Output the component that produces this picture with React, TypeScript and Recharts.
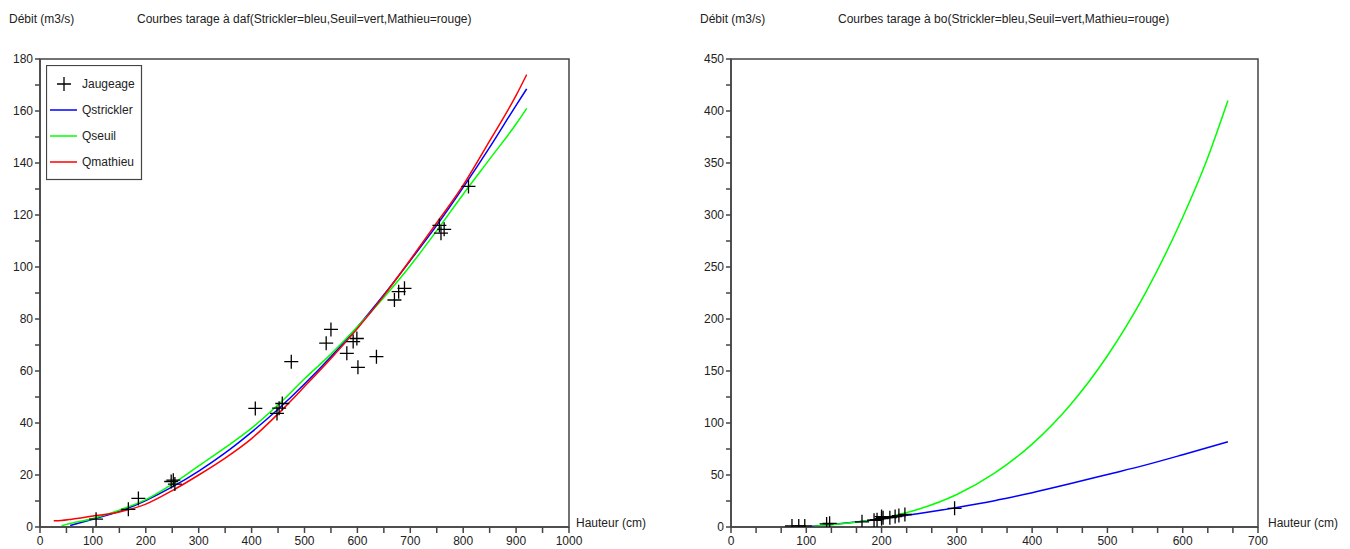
import React from 'react';
import { ComposedChart, Line, Scatter, XAxis, YAxis, ReferenceArea } from 'recharts';

// station daf : jaugeages (hauteur cm, débit m3/s)
const dafJaugeage = [
  { x: 106, y: 3 }, { x: 167, y: 6.8 }, { x: 186, y: 11 }, { x: 248, y: 17.5 },
  { x: 252, y: 18 }, { x: 255, y: 16.5 }, { x: 407, y: 45.6 }, { x: 448, y: 43.7 },
  { x: 452, y: 45.7 }, { x: 458, y: 47.5 }, { x: 475, y: 63.6 }, { x: 541, y: 70.7 },
  { x: 550, y: 76 }, { x: 580, y: 66.8 }, { x: 592, y: 71.3 }, { x: 599, y: 72.5 },
  { x: 601, y: 61.4 }, { x: 636, y: 65.5 }, { x: 670, y: 87.3 }, { x: 678, y: 90.5 },
  { x: 689, y: 91.8 }, { x: 755, y: 116 }, { x: 758, y: 113 }, { x: 764, y: 114.5 },
  { x: 810, y: 131 },
];

const dafStrickler = [
  { x: 57, y: 0.6 }, { x: 100, y: 3 }, { x: 150, y: 6 }, { x: 200, y: 10.2 },
  { x: 250, y: 15.4 }, { x: 300, y: 21.5 }, { x: 350, y: 28.5 }, { x: 400, y: 36.5 },
  { x: 450, y: 45.3 }, { x: 500, y: 55 }, { x: 550, y: 65.5 }, { x: 600, y: 76.9 },
  { x: 650, y: 89.3 }, { x: 700, y: 102.5 }, { x: 750, y: 116 }, { x: 800, y: 130.6 },
  { x: 850, y: 146 }, { x: 900, y: 162.2 }, { x: 920, y: 168.5 },
];

const dafSeuil = [
  { x: 41, y: 0.5 }, { x: 50, y: 1 }, { x: 100, y: 3.3 }, { x: 150, y: 6.5 },
  { x: 200, y: 10.5 }, { x: 250, y: 16.5 }, { x: 300, y: 23.5 }, { x: 350, y: 30.5 },
  { x: 400, y: 38 }, { x: 450, y: 47 }, { x: 500, y: 57 }, { x: 550, y: 66.5 },
  { x: 600, y: 77 }, { x: 650, y: 88.3 }, { x: 700, y: 100.5 }, { x: 750, y: 114 },
  { x: 800, y: 128 }, { x: 850, y: 141.5 }, { x: 900, y: 155 }, { x: 920, y: 161 },
];

const dafMathieu = [
  { x: 26, y: 2.4 }, { x: 40, y: 2.5 }, { x: 60, y: 3 }, { x: 80, y: 3.6 },
  { x: 100, y: 4.2 }, { x: 150, y: 5.8 }, { x: 200, y: 8.8 }, { x: 250, y: 14 },
  { x: 300, y: 20 }, { x: 350, y: 26.5 }, { x: 400, y: 34 }, { x: 450, y: 43.5 },
  { x: 500, y: 54 }, { x: 550, y: 64.8 }, { x: 600, y: 76.3 }, { x: 650, y: 89 },
  { x: 700, y: 102.8 }, { x: 750, y: 117 }, { x: 800, y: 131.5 }, { x: 850, y: 148.5 },
  { x: 900, y: 166 }, { x: 920, y: 174 },
];

// station bo
const boJaugeage = [
  { x: 81, y: 1 }, { x: 90, y: 1 }, { x: 98, y: 1 }, { x: 127, y: 3 },
  { x: 131, y: 3.5 }, { x: 174, y: 5 }, { x: 190, y: 6.5 }, { x: 194, y: 7 },
  { x: 200, y: 8 }, { x: 200, y: 10 }, { x: 202, y: 9 }, { x: 211, y: 9 },
  { x: 218, y: 10 }, { x: 223, y: 11 }, { x: 231, y: 12 }, { x: 297, y: 18 },
];

const boStrickler = [
  { x: 105, y: 0.5 }, { x: 125, y: 1.8 }, { x: 150, y: 3.5 }, { x: 175, y: 5.5 },
  { x: 200, y: 7.8 }, { x: 250, y: 13 }, { x: 300, y: 18.8 }, { x: 350, y: 25.3 },
  { x: 400, y: 33 }, { x: 450, y: 41.5 }, { x: 500, y: 50.5 }, { x: 550, y: 59.5 },
  { x: 600, y: 69.5 }, { x: 660, y: 82 },
];

const boSeuil = [
  { x: 110, y: 0.8 }, { x: 150, y: 3.3 }, { x: 200, y: 8.4 }, { x: 250, y: 17.3 },
  { x: 300, y: 31.2 }, { x: 350, y: 51.7 }, { x: 400, y: 79.7 }, { x: 450, y: 116.9 },
  { x: 500, y: 164.7 }, { x: 550, y: 224.4 }, { x: 600, y: 297.8 }, { x: 630, y: 349 },
  { x: 660, y: 410 },
];

const dafXTicks = [0, 50, 100, 150, 200, 250, 300, 350, 400, 450, 500, 550, 600, 650, 700, 750, 800, 850, 900, 950, 1000];
const dafYTicks = [0, 10, 20, 30, 40, 50, 60, 70, 80, 90, 100, 110, 120, 130, 140, 150, 160, 170, 180];
const boXTicks = [0, 33.33, 66.67, 100, 133.33, 166.67, 200, 233.33, 266.67, 300, 333.33, 366.67, 400, 433.33, 466.67, 500, 533.33, 566.67, 600, 633.33, 666.67, 700];
const boYTicks = [0, 25, 50, 75, 100, 125, 150, 175, 200, 225, 250, 275, 300, 325, 350, 375, 400, 425, 450];

const FONT = '"Liberation Sans", Arial, sans-serif';
const AXIS = '#444';

const Cross = (props: any) => {
  const { cx, cy } = props;
  if (cx == null || cy == null) return null;
  return (
    <path
      d={`M${cx - 7},${cy}H${cx + 7}M${cx},${cy - 7}V${cy + 7}`}
      stroke="#000"
      strokeWidth={1.3}
      fill="none"
    />
  );
};

const major = (step: number) => (v: number) => {
  const r = Math.abs(v / step - Math.round(v / step));
  return r < 0.001 ? String(Math.round(v)) : '';
};

interface ChartProps {
  width: number;
  yAxisWidth: number;
  marginRight: number;
  xMax: number;
  yMax: number;
  xTicks: number[];
  yTicks: number[];
  xStep: number;
  yStep: number;
  jaugeage: { x: number; y: number }[];
  strickler: { x: number; y: number }[];
  seuil: { x: number; y: number }[];
  mathieu?: { x: number; y: number }[];
}

function RatingChart(p: ChartProps) {
  const tick = { fill: '#222', fontSize: 12, fontFamily: FONT };
  return (
    <ComposedChart
      width={p.width}
      height={549}
      margin={{ top: 59, right: p.marginRight, bottom: 0, left: 0 }}
    >
      <XAxis
        type="number"
        dataKey="x"
        domain={[0, p.xMax]}
        ticks={p.xTicks}
        interval={0}
        allowDataOverflow
        height={22}
        tickSize={6}
        tickMargin={3}
        tickFormatter={major(p.xStep)}
        stroke={AXIS}
        strokeWidth={1.5}
        tick={tick}
      />
      <YAxis
        type="number"
        dataKey="y"
        domain={[0, p.yMax]}
        ticks={p.yTicks}
        interval={0}
        allowDataOverflow
        width={p.yAxisWidth}
        tickSize={5}
        tickMargin={2}
        tickFormatter={major(p.yStep)}
        stroke={AXIS}
        strokeWidth={1.5}
        tick={tick}
      />
      <ReferenceArea x1={0} x2={p.xMax} y1={0} y2={p.yMax} fill="none" stroke={AXIS} strokeWidth={1.5} />
      <Line data={p.strickler} dataKey="y" type="monotone" stroke="#0000ff" strokeWidth={1.5} dot={false} isAnimationActive={false} />
      <Line data={p.seuil} dataKey="y" type="monotone" stroke="#00ff00" strokeWidth={1.5} dot={false} isAnimationActive={false} />
      {p.mathieu && (
        <Line data={p.mathieu} dataKey="y" type="monotone" stroke="#ff0000" strokeWidth={1.5} dot={false} isAnimationActive={false} />
      )}
      <Scatter data={p.jaugeage} dataKey="y" shape={Cross} isAnimationActive={false} />
    </ComposedChart>
  );
}

const txt = (left: number, top: number): React.CSSProperties => ({
  position: 'absolute',
  left,
  top,
  fontSize: 12,
  lineHeight: '14px',
  color: '#222',
  whiteSpace: 'nowrap',
});

export default function App() {
  return (
    <div style={{ position: 'relative', width: 1350, height: 549, fontFamily: FONT, background: '#fff', overflow: 'hidden' }}>
      <style>{'body{margin:0}'}</style>

      <div style={{ position: 'absolute', left: 0, top: 0 }}>
        <RatingChart
          width={680}
          yAxisWidth={40}
          marginRight={111}
          xMax={1000}
          yMax={180}
          xTicks={dafXTicks}
          yTicks={dafYTicks}
          xStep={100}
          yStep={20}
          jaugeage={dafJaugeage}
          strickler={dafStrickler}
          seuil={dafSeuil}
          mathieu={dafMathieu}
        />
      </div>
      <div style={{ position: 'absolute', left: 680, top: 0 }}>
        <RatingChart
          width={670}
          yAxisWidth={51}
          marginRight={92}
          xMax={700}
          yMax={450}
          xTicks={boXTicks}
          yTicks={boYTicks}
          xStep={100}
          yStep={50}
          jaugeage={boJaugeage}
          strickler={boStrickler}
          seuil={boSeuil}
        />
      </div>

      {/* legende station daf */}
      <svg style={{ position: 'absolute', left: 46, top: 65 }} width={97} height={116}>
        <rect x={0.5} y={0.5} width={95} height={114} fill="#fff" stroke={AXIS} strokeWidth={1.2} />
        <path d="M11,19H25M18,12V26" stroke="#000" strokeWidth={1.3} />
        <text x={36} y={23} fontSize={12} fontFamily={FONT} fill="#222">Jaugeage</text>
        <line x1={4} x2={31} y1={45} y2={45} stroke="#0000ff" strokeWidth={1.5} />
        <text x={36} y={49} fontSize={12} fontFamily={FONT} fill="#222">Qstrickler</text>
        <line x1={4} x2={31} y1={71} y2={71} stroke="#00ff00" strokeWidth={1.5} />
        <text x={36} y={75} fontSize={12} fontFamily={FONT} fill="#222">Qseuil</text>
        <line x1={4} x2={31} y1={97} y2={97} stroke="#ff0000" strokeWidth={1.5} />
        <text x={36} y={101} fontSize={12} fontFamily={FONT} fill="#222">Qmathieu</text>
      </svg>

      <div style={txt(9, 12)}>Débit (m3/s)</div>
      <div style={txt(137, 12)}>Courbes tarage à daf(Strickler=bleu,Seuil=vert,Mathieu=rouge)</div>
      <div style={txt(576, 516)}>Hauteur (cm)</div>

      <div style={txt(700, 12)}>Débit (m3/s)</div>
      <div style={txt(838, 12)}>Courbes tarage à bo(Strickler=bleu,Seuil=vert,Mathieu=rouge)</div>
      <div style={txt(1268, 516)}>Hauteur (cm)</div>
    </div>
  );
}
